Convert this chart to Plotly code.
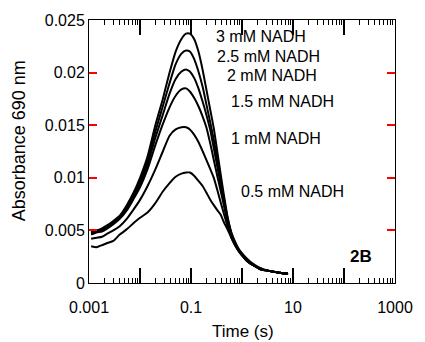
import plotly.graph_objects as go

# Time (s) sampling points shared by all curves
time_s = [0.0011, 0.0014, 0.0018, 0.0023, 0.003, 0.004, 0.0055, 0.0075, 0.01, 0.014,
          0.02, 0.028, 0.038, 0.05, 0.065, 0.08, 0.095, 0.115, 0.14, 0.17,
          0.2, 0.24, 0.28, 0.33, 0.38, 0.44, 0.52, 0.62, 0.75, 0.9,
          1.1, 1.4, 1.8, 2.3, 3, 4, 5.2, 6.5, 8]

abs_3mM = [0.0049, 0.0050, 0.0052, 0.0055, 0.0059, 0.0064, 0.0074, 0.0086, 0.0100, 0.0120,
           0.0150, 0.0175, 0.0200, 0.0220, 0.0232, 0.0237, 0.0237, 0.0232, 0.0220, 0.0202,
           0.0184, 0.0164, 0.0147, 0.0124, 0.0104, 0.0084, 0.0063, 0.0048, 0.0038, 0.0031,
           0.0026, 0.0021, 0.0017, 0.0014, 0.0012, 0.0011, 0.0010, 0.0009, 0.0009]

abs_2_5mM = [0.0048, 0.0050, 0.0051, 0.0054, 0.0058, 0.0063, 0.0072, 0.0084, 0.0097, 0.0116,
             0.0144, 0.0168, 0.0190, 0.0208, 0.0218, 0.0221, 0.0220, 0.0213, 0.0201, 0.0186,
             0.0170, 0.0152, 0.0136, 0.0116, 0.0098, 0.0081, 0.0062, 0.0047, 0.0037, 0.0030,
             0.0025, 0.0020, 0.0016, 0.0014, 0.0012, 0.0011, 0.0010, 0.0009, 0.0009]

abs_2mM = [0.0047, 0.0049, 0.0050, 0.0053, 0.0057, 0.0062, 0.0071, 0.0082, 0.0094, 0.0112,
           0.0138, 0.0160, 0.0180, 0.0194, 0.0201, 0.0203, 0.0201, 0.0195, 0.0185, 0.0172,
           0.0160, 0.0145, 0.0128, 0.0110, 0.0094, 0.0078, 0.0060, 0.0046, 0.0036, 0.0030,
           0.0025, 0.0020, 0.0016, 0.0013, 0.0012, 0.0011, 0.0010, 0.0009, 0.0009]

abs_1_5mM = [0.0046, 0.0048, 0.0049, 0.0052, 0.0056, 0.0061, 0.0069, 0.0080, 0.0091, 0.0108,
             0.0131, 0.0151, 0.0167, 0.0178, 0.0184, 0.0185, 0.0182, 0.0176, 0.0168, 0.0158,
             0.0148, 0.0132, 0.0117, 0.0101, 0.0088, 0.0074, 0.0058, 0.0045, 0.0036, 0.0029,
             0.0024, 0.0019, 0.0016, 0.0013, 0.0012, 0.0011, 0.0010, 0.0009, 0.0009]

abs_1mM = [0.0042, 0.0043, 0.0044, 0.0047, 0.0050, 0.0054, 0.0061, 0.0070, 0.0079, 0.0092,
           0.0108, 0.0125, 0.0140, 0.0146, 0.0148, 0.0148, 0.0146, 0.0141, 0.0134, 0.0125,
           0.0117, 0.0108, 0.0100, 0.0088, 0.0077, 0.0066, 0.0054, 0.0043, 0.0035, 0.0029,
           0.0024, 0.0019, 0.0016, 0.0013, 0.0012, 0.0011, 0.0010, 0.0009, 0.0009]

abs_0_5mM = [0.0035, 0.0034, 0.0036, 0.0038, 0.0040, 0.0046, 0.0051, 0.0057, 0.0062, 0.0067,
             0.0076, 0.0087, 0.0095, 0.0101, 0.0104, 0.0105, 0.0105, 0.0102, 0.0097, 0.0092,
             0.0086, 0.0079, 0.0074, 0.0069, 0.0065, 0.0058, 0.0051, 0.0043, 0.0035, 0.0029,
             0.0024, 0.0019, 0.0016, 0.0013, 0.0012, 0.0011, 0.0010, 0.0009, 0.0009]

series = [abs_3mM, abs_2_5mM, abs_2mM, abs_1_5mM, abs_1mM, abs_0_5mM]

labels = ["3 mM NADH", "2.5 mM NADH", "2 mM NADH", "1.5 mM NADH", "1 mM NADH", "0.5 mM NADH"]
label_x = [0.408, 0.411, 0.443, 0.456, 0.456, 0.491]
label_y = [0.9375, 0.860, 0.788, 0.689, 0.549, 0.348]

# decade ticks: only every other decade carries a label
x_label_alias = {"0.01": " ", "1": " ", "100": " "}
y_tickvals = [0, 0.005, 0.01, 0.015, 0.02, 0.025]
y_ticktext = ["0", "0.005", "0.01", "0.015", "0.02", "0.025"]

FONT = "Liberation Sans, Arial, Helvetica, sans-serif"

fig = go.Figure()
for ys, name in zip(series, labels):
    fig.add_trace(go.Scatter(x=time_s, y=ys, mode="lines", name=name,
                             line=dict(color="black", width=2, shape="spline", smoothing=0.6),
                             showlegend=False))

for text, lx, ly in zip(labels, label_x, label_y):
    fig.add_annotation(text=text, x=lx, y=ly, xref="paper", yref="paper",
                       xanchor="left", yanchor="middle", showarrow=False,
                       font=dict(family=FONT, size=16, color="black"))

fig.add_annotation(text="<b>2B</b>", x=0.848, y=0.102, xref="paper", yref="paper",
                   xanchor="left", yanchor="middle", showarrow=False,
                   font=dict(family=FONT, size=17, color="black"))

# axis titles
fig.add_annotation(text="Time (s)", x=0.503, y=-0.186, xref="paper", yref="paper",
                   xanchor="center", yanchor="middle", showarrow=False,
                   font=dict(family=FONT, size=17, color="black"))
fig.add_annotation(text="Absorbance 690 nm", x=-0.226, y=0.542, xref="paper", yref="paper",
                   xanchor="center", yanchor="middle", showarrow=False, textangle=-90,
                   font=dict(family=FONT, size=18, color="black"))

fig.update_layout(
    template="simple_white",
    width=425, height=342,
    margin=dict(l=89, r=20, t=19, b=59),
    font=dict(family=FONT, size=16, color="black"),
    xaxis=dict(type="log", range=[-3, 3], tickmode="linear", tick0=0, dtick=1,
               labelalias=x_label_alias,
               ticks="inside", ticklen=15, tickwidth=2, tickcolor="black",
               ticklabelstandoff=10,
               minor=dict(dtick="D1", ticks="inside", ticklen=5, tickwidth=1,
                          tickcolor="black"),
               showline=True, linecolor="black", mirror="ticks"),
    yaxis=dict(range=[0, 0.025], tickmode="array",
               tickvals=y_tickvals, ticktext=y_ticktext,
               ticks="inside", ticklen=8, tickwidth=2, tickcolor="red",
               showline=True, linecolor="black", mirror="ticks"),
)

fig.write_html("out.html")
